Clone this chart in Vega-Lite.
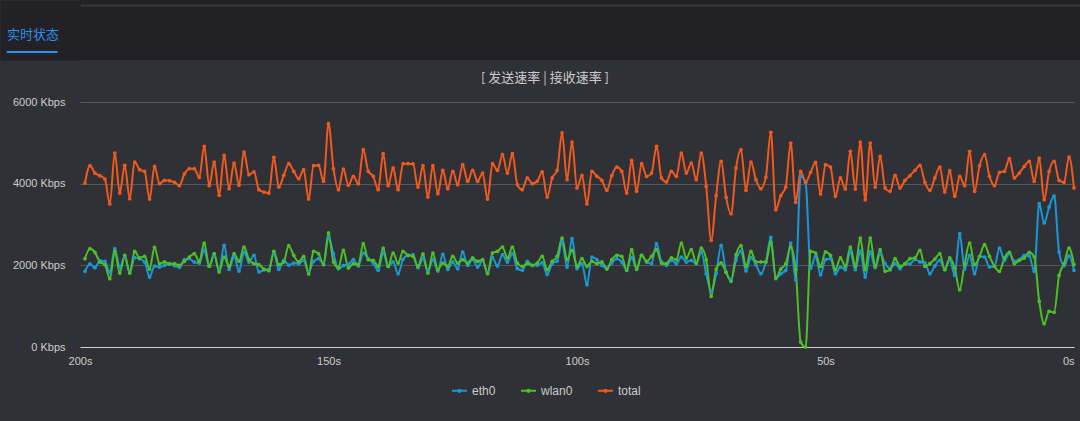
{
"$schema": "https://vega.github.io/schema/vega-lite/v6.json",
"background": "#303136",
"padding": {"left": 0, "top": 0, "right": 0, "bottom": 24},
"spacing": 9,
"config": {"view": {"stroke": null}, "font": "Liberation Sans"},
"resolve": {"scale": {"color": "independent"}, "legend": {"color": "independent"}},
"vconcat": [
{
"width": 1000, "height": 60,
"view": {"fill": "#212126", "stroke": null},
"title": {"text": "实时状态", "subtitle": "━━━━━━━", "orient": "top", "anchor": "start", "frame": "group", "offset": -58, "dx": -73, "font": "Noto Sans CJK SC", "fontSize": 13, "fontWeight": "normal", "color": "#2f8ff0", "subtitleFont": "DejaVu Sans", "subtitleFontSize": 12, "subtitleColor": "#2f8ff0", "subtitlePadding": 5},
"data": {"values": [{"k": 0}]},
"mark": {"type": "point", "opacity": 0},
"encoding": {
"x": {"field": "k", "type": "quantitative", "scale": {"domain": [0, 1]}, "axis": {"orient": "top", "offset": -5, "labels": false, "ticks": false, "grid": false, "title": null, "domainColor": "#38393e", "domainWidth": 2}},
"y": {"field": "k", "type": "quantitative", "scale": {"domain": [0, 1]}, "axis": {"orient": "left", "offset": 40, "labels": false, "ticks": false, "grid": false, "title": null, "domainColor": "#212126", "domainWidth": 80, "minExtent": 0}}
}
},
{
"width": 994, "height": 245,
"title": {"text": "[ 发送速率 | 接收速率 ]", "anchor": "middle", "frame": "bounds", "dx": 6, "font": "Noto Sans CJK SC", "fontSize": 13, "fontWeight": "normal", "color": "#cccccc", "offset": 11},
"data": {"values": [
{"t":199,"eth0":1853,"wlan0":2163,"total":4016},
{"t":198,"eth0":2033,"wlan0":2408,"total":4441},
{"t":197,"eth0":1943,"wlan0":2318,"total":4261},
{"t":196,"eth0":2114,"wlan0":2082,"total":4196},
{"t":195,"eth0":2098,"wlan0":2016,"total":4114},
{"t":194,"eth0":1829,"wlan0":1673,"total":3502},
{"t":193,"eth0":2408,"wlan0":2343,"total":4751},
{"t":192,"eth0":1959,"wlan0":1812,"total":3771},
{"t":191,"eth0":2204,"wlan0":2245,"total":4449},
{"t":190,"eth0":1821,"wlan0":1812,"total":3633},
{"t":189,"eth0":2187,"wlan0":2343,"total":4530},
{"t":188,"eth0":2163,"wlan0":2180,"total":4343},
{"t":187,"eth0":2082,"wlan0":2220,"total":4302},
{"t":186,"eth0":1714,"wlan0":1910,"total":3624},
{"t":185,"eth0":1983,"wlan0":2441,"total":4424},
{"t":184,"eth0":1959,"wlan0":2041,"total":4000},
{"t":183,"eth0":2000,"wlan0":2082,"total":4082},
{"t":182,"eth0":2032,"wlan0":2041,"total":4073},
{"t":181,"eth0":1992,"wlan0":2041,"total":4033},
{"t":180,"eth0":1951,"wlan0":2000,"total":3951},
{"t":179,"eth0":2139,"wlan0":2098,"total":4237},
{"t":178,"eth0":2163,"wlan0":2204,"total":4367},
{"t":177,"eth0":2081,"wlan0":2286,"total":4367},
{"t":176,"eth0":2057,"wlan0":2098,"total":4155},
{"t":175,"eth0":2367,"wlan0":2547,"total":4914},
{"t":174,"eth0":1976,"wlan0":1975,"total":3951},
{"t":173,"eth0":2244,"wlan0":2286,"total":4530},
{"t":172,"eth0":1877,"wlan0":1837,"total":3714},
{"t":171,"eth0":2490,"wlan0":2204,"total":4694},
{"t":170,"eth0":1902,"wlan0":1975,"total":3877},
{"t":169,"eth0":2220,"wlan0":2286,"total":4506},
{"t":168,"eth0":1861,"wlan0":2098,"total":3959},
{"t":167,"eth0":2326,"wlan0":2449,"total":4775},
{"t":166,"eth0":2081,"wlan0":2139,"total":4220},
{"t":165,"eth0":2245,"wlan0":2041,"total":4286},
{"t":164,"eth0":1837,"wlan0":2016,"total":3853},
{"t":163,"eth0":1886,"wlan0":1910,"total":3796},
{"t":162,"eth0":1902,"wlan0":1869,"total":3771},
{"t":161,"eth0":2302,"wlan0":2343,"total":4645},
{"t":160,"eth0":1902,"wlan0":2016,"total":3918},
{"t":159,"eth0":2122,"wlan0":2082,"total":4204},
{"t":158,"eth0":2008,"wlan0":2482,"total":4490},
{"t":157,"eth0":2057,"wlan0":2245,"total":4302},
{"t":156,"eth0":2040,"wlan0":2082,"total":4122},
{"t":155,"eth0":2123,"wlan0":2220,"total":4343},
{"t":154,"eth0":1836,"wlan0":1788,"total":3624},
{"t":153,"eth0":2098,"wlan0":2343,"total":4441},
{"t":152,"eth0":2163,"wlan0":2286,"total":4449},
{"t":151,"eth0":2041,"wlan0":2016,"total":4057},
{"t":150,"eth0":2677,"wlan0":2792,"total":5469},
{"t":149,"eth0":2285,"wlan0":2082,"total":4367},
{"t":148,"eth0":1918,"wlan0":1935,"total":3853},
{"t":147,"eth0":1992,"wlan0":2367,"total":4359},
{"t":146,"eth0":2024,"wlan0":1935,"total":3959},
{"t":145,"eth0":2138,"wlan0":2041,"total":4179},
{"t":144,"eth0":1984,"wlan0":2016,"total":4000},
{"t":143,"eth0":2301,"wlan0":2531,"total":4832},
{"t":142,"eth0":2163,"wlan0":2139,"total":4302},
{"t":141,"eth0":2057,"wlan0":2122,"total":4179},
{"t":140,"eth0":1878,"wlan0":1975,"total":3853},
{"t":139,"eth0":2310,"wlan0":2424,"total":4734},
{"t":138,"eth0":1976,"wlan0":1975,"total":3951},
{"t":137,"eth0":2082,"wlan0":2302,"total":4384},
{"t":136,"eth0":1796,"wlan0":2057,"total":3853},
{"t":135,"eth0":2147,"wlan0":2343,"total":4490},
{"t":134,"eth0":2245,"wlan0":2245,"total":4490},
{"t":133,"eth0":2262,"wlan0":2220,"total":4482},
{"t":132,"eth0":1943,"wlan0":1975,"total":3918},
{"t":131,"eth0":2163,"wlan0":2278,"total":4441},
{"t":130,"eth0":1861,"wlan0":1812,"total":3673},
{"t":129,"eth0":2139,"wlan0":2302,"total":4441},
{"t":128,"eth0":1861,"wlan0":1894,"total":3755},
{"t":127,"eth0":2269,"wlan0":2057,"total":4326},
{"t":126,"eth0":1902,"wlan0":1975,"total":3877},
{"t":125,"eth0":2082,"wlan0":2220,"total":4302},
{"t":124,"eth0":1918,"wlan0":2057,"total":3975},
{"t":123,"eth0":2326,"wlan0":2139,"total":4465},
{"t":122,"eth0":2000,"wlan0":2057,"total":4057},
{"t":121,"eth0":2146,"wlan0":2180,"total":4326},
{"t":120,"eth0":1959,"wlan0":2098,"total":4057},
{"t":119,"eth0":2122,"wlan0":2139,"total":4261},
{"t":118,"eth0":1828,"wlan0":1796,"total":3624},
{"t":117,"eth0":2188,"wlan0":2302,"total":4490},
{"t":116,"eth0":1983,"wlan0":2343,"total":4326},
{"t":115,"eth0":2261,"wlan0":2449,"total":4710},
{"t":114,"eth0":2081,"wlan0":2180,"total":4261},
{"t":113,"eth0":2285,"wlan0":2449,"total":4734},
{"t":112,"eth0":1918,"wlan0":2057,"total":3975},
{"t":111,"eth0":1878,"wlan0":1975,"total":3853},
{"t":110,"eth0":2098,"wlan0":2041,"total":4139},
{"t":109,"eth0":2000,"wlan0":2000,"total":4000},
{"t":108,"eth0":2000,"wlan0":2057,"total":4057},
{"t":107,"eth0":2066,"wlan0":2220,"total":4286},
{"t":106,"eth0":1779,"wlan0":1894,"total":3673},
{"t":105,"eth0":2041,"wlan0":2098,"total":4139},
{"t":104,"eth0":2106,"wlan0":2220,"total":4326},
{"t":103,"eth0":2572,"wlan0":2669,"total":5241},
{"t":102,"eth0":1959,"wlan0":2139,"total":4098},
{"t":101,"eth0":2653,"wlan0":2367,"total":5020},
{"t":100,"eth0":1919,"wlan0":1975,"total":3894},
{"t":99,"eth0":2041,"wlan0":2163,"total":4204},
{"t":98,"eth0":1527,"wlan0":1975,"total":3502},
{"t":97,"eth0":2204,"wlan0":2098,"total":4302},
{"t":96,"eth0":2138,"wlan0":2041,"total":4179},
{"t":95,"eth0":2000,"wlan0":2082,"total":4082},
{"t":94,"eth0":1927,"wlan0":1910,"total":3837},
{"t":93,"eth0":2057,"wlan0":2139,"total":4196},
{"t":92,"eth0":2163,"wlan0":2245,"total":4408},
{"t":91,"eth0":2082,"wlan0":2220,"total":4302},
{"t":90,"eth0":1893,"wlan0":1878,"total":3771},
{"t":89,"eth0":2187,"wlan0":2384,"total":4571},
{"t":88,"eth0":1902,"wlan0":1910,"total":3812},
{"t":87,"eth0":2245,"wlan0":2245,"total":4490},
{"t":86,"eth0":2081,"wlan0":2098,"total":4179},
{"t":85,"eth0":2041,"wlan0":2220,"total":4261},
{"t":84,"eth0":2530,"wlan0":2384,"total":4914},
{"t":83,"eth0":2082,"wlan0":2057,"total":4139},
{"t":82,"eth0":2000,"wlan0":2041,"total":4041},
{"t":81,"eth0":2122,"wlan0":2180,"total":4302},
{"t":80,"eth0":2040,"wlan0":2139,"total":4179},
{"t":79,"eth0":2204,"wlan0":2547,"total":4751},
{"t":78,"eth0":2081,"wlan0":2180,"total":4261},
{"t":77,"eth0":2122,"wlan0":2384,"total":4506},
{"t":76,"eth0":2041,"wlan0":2057,"total":4098},
{"t":75,"eth0":2327,"wlan0":2424,"total":4751},
{"t":74,"eth0":1796,"wlan0":2139,"total":3935},
{"t":73,"eth0":1371,"wlan0":1241,"total":2612},
{"t":72,"eth0":1796,"wlan0":1910,"total":3706},
{"t":71,"eth0":2487,"wlan0":2060,"total":4547},
{"t":70,"eth0":1836,"wlan0":1829,"total":3665},
{"t":69,"eth0":1657,"wlan0":1608,"total":3265},
{"t":68,"eth0":2123,"wlan0":2261,"total":4384},
{"t":67,"eth0":2350,"wlan0":2482,"total":4832},
{"t":66,"eth0":1862,"wlan0":1975,"total":3837},
{"t":65,"eth0":2187,"wlan0":2343,"total":4530},
{"t":64,"eth0":2016,"wlan0":2082,"total":4098},
{"t":63,"eth0":1795,"wlan0":2082,"total":3877},
{"t":62,"eth0":2081,"wlan0":2082,"total":4163},
{"t":61,"eth0":2686,"wlan0":2571,"total":5257},
{"t":60,"eth0":1673,"wlan0":1690,"total":3363},
{"t":59,"eth0":1796,"wlan0":1910,"total":3706},
{"t":58,"eth0":1877,"wlan0":2041,"total":3918},
{"t":57,"eth0":2547,"wlan0":2449,"total":4996},
{"t":56,"eth0":1649,"wlan0":1894,"total":3543},
{"t":55,"eth0":4180,"wlan0":122,"total":4302},
{"t":54,"eth0":4033,"wlan0":0,"total":4033},
{"t":53,"eth0":1934,"wlan0":2343,"total":4277},
{"t":52,"eth0":2220,"wlan0":2302,"total":4522},
{"t":51,"eth0":1772,"wlan0":1975,"total":3747},
{"t":50,"eth0":2138,"wlan0":2327,"total":4465},
{"t":49,"eth0":2163,"wlan0":2245,"total":4408},
{"t":48,"eth0":1796,"wlan0":1894,"total":3690},
{"t":47,"eth0":1959,"wlan0":2180,"total":4139},
{"t":46,"eth0":1894,"wlan0":1975,"total":3869},
{"t":45,"eth0":2343,"wlan0":2449,"total":4792},
{"t":44,"eth0":1894,"wlan0":1975,"total":3869},
{"t":43,"eth0":2351,"wlan0":2669,"total":5020},
{"t":42,"eth0":1714,"wlan0":1894,"total":3608},
{"t":41,"eth0":2327,"wlan0":2669,"total":4996},
{"t":40,"eth0":1943,"wlan0":1975,"total":3918},
{"t":39,"eth0":2285,"wlan0":2384,"total":4669},
{"t":38,"eth0":2041,"wlan0":1853,"total":3894},
{"t":37,"eth0":1918,"wlan0":1894,"total":3812},
{"t":36,"eth0":2041,"wlan0":2163,"total":4204},
{"t":35,"eth0":1919,"wlan0":1975,"total":3894},
{"t":34,"eth0":2041,"wlan0":2041,"total":4082},
{"t":33,"eth0":2033,"wlan0":2163,"total":4196},
{"t":32,"eth0":2146,"wlan0":2180,"total":4326},
{"t":31,"eth0":2082,"wlan0":2367,"total":4449},
{"t":30,"eth0":2058,"wlan0":1975,"total":4033},
{"t":29,"eth0":1796,"wlan0":2041,"total":3837},
{"t":28,"eth0":1984,"wlan0":2155,"total":4139},
{"t":27,"eth0":2122,"wlan0":2286,"total":4408},
{"t":26,"eth0":1902,"wlan0":1894,"total":3796},
{"t":25,"eth0":2138,"wlan0":2180,"total":4318},
{"t":24,"eth0":1760,"wlan0":1930,"total":3690},
{"t":23,"eth0":2775,"wlan0":1404,"total":4179},
{"t":22,"eth0":1910,"wlan0":2041,"total":3951},
{"t":21,"eth0":2245,"wlan0":2547,"total":4792},
{"t":20,"eth0":1796,"wlan0":2016,"total":3812},
{"t":19,"eth0":2221,"wlan0":2220,"total":4441},
{"t":18,"eth0":2204,"wlan0":2506,"total":4710},
{"t":17,"eth0":1959,"wlan0":2220,"total":4179},
{"t":16,"eth0":1976,"wlan0":1975,"total":3951},
{"t":15,"eth0":2424,"wlan0":1853,"total":4277},
{"t":14,"eth0":2122,"wlan0":2180,"total":4302},
{"t":13,"eth0":2294,"wlan0":2318,"total":4612},
{"t":12,"eth0":2098,"wlan0":2041,"total":4139},
{"t":11,"eth0":2139,"wlan0":2122,"total":4261},
{"t":10,"eth0":2244,"wlan0":2180,"total":4424},
{"t":9,"eth0":2229,"wlan0":2318,"total":4547},
{"t":8,"eth0":1853,"wlan0":2204,"total":4057},
{"t":7,"eth0":3510,"wlan0":1118,"total":4628},
{"t":6,"eth0":3037,"wlan0":571,"total":3608},
{"t":5,"eth0":3429,"wlan0":873,"total":4302},
{"t":4,"eth0":3698,"wlan0":849,"total":4547},
{"t":3,"eth0":2327,"wlan0":1755,"total":4082},
{"t":2,"eth0":1992,"wlan0":2041,"total":4033},
{"t":1,"eth0":2229,"wlan0":2424,"total":4653},
{"t":0,"eth0":1878,"wlan0":2016,"total":3894}
]},
"transform": [{"fold": ["eth0", "wlan0", "total"], "as": ["series", "value"]}],
"mark": {"type": "line", "interpolate": "monotone", "strokeWidth": 2, "point": {"filled": true, "size": 14}},
"encoding": {
"x": {"field": "t", "type": "quantitative", "scale": {"domain": [0, 200], "reverse": true, "nice": false, "zero": false},
 "axis": {"values": [200, 150, 100, 50, 0], "labelExpr": "datum.value + 's'", "grid": false, "ticks": false, "domainColor": "#cdd1dc", "domainWidth": 1, "labelColor": "#cccccc", "labelFontSize": 11, "labelPadding": 8, "title": null, "labelFlush": false, "labelOverlap": false, "labelAlign": {"condition": {"test": "datum.value === 0", "value": "right"}, "value": "center"}}},
"y": {"field": "value", "type": "quantitative", "scale": {"domain": [0, 6000], "nice": false},
 "axis": {"values": [0, 2000, 4000, 6000], "labelExpr": "datum.value + ' Kbps'", "minExtent": 80, "grid": true, "gridColor": {"condition": {"test": "datum.value === 0", "value": "transparent"}, "value": "#56575c"}, "gridWidth": 1, "domain": false, "ticks": false, "labelPadding": 15, "labelColor": "#cccccc", "labelFontSize": 11, "title": null}},
"color": {"field": "series", "type": "nominal", "scale": {"domain": ["eth0", "wlan0", "total"], "range": ["#1a98d5", "#4fbf26", "#f05a1e"]},
 "legend": {"orient": "none", "legendX": 371, "legendY": 280, "direction": "horizontal", "title": null, "symbolType": "M-1,0L1,0M-0.15,0A0.15,0.15,0,1,1,0.15,0A0.15,0.15,0,1,1,-0.15,0", "symbolSize": 225, "symbolStrokeWidth": 2, "labelColor": "#cccccc", "labelFontSize": 12, "labelFont": "Liberation Sans", "labelOffset": 4, "columnPadding": 21, "padding": 0}}
}
}
]
}
